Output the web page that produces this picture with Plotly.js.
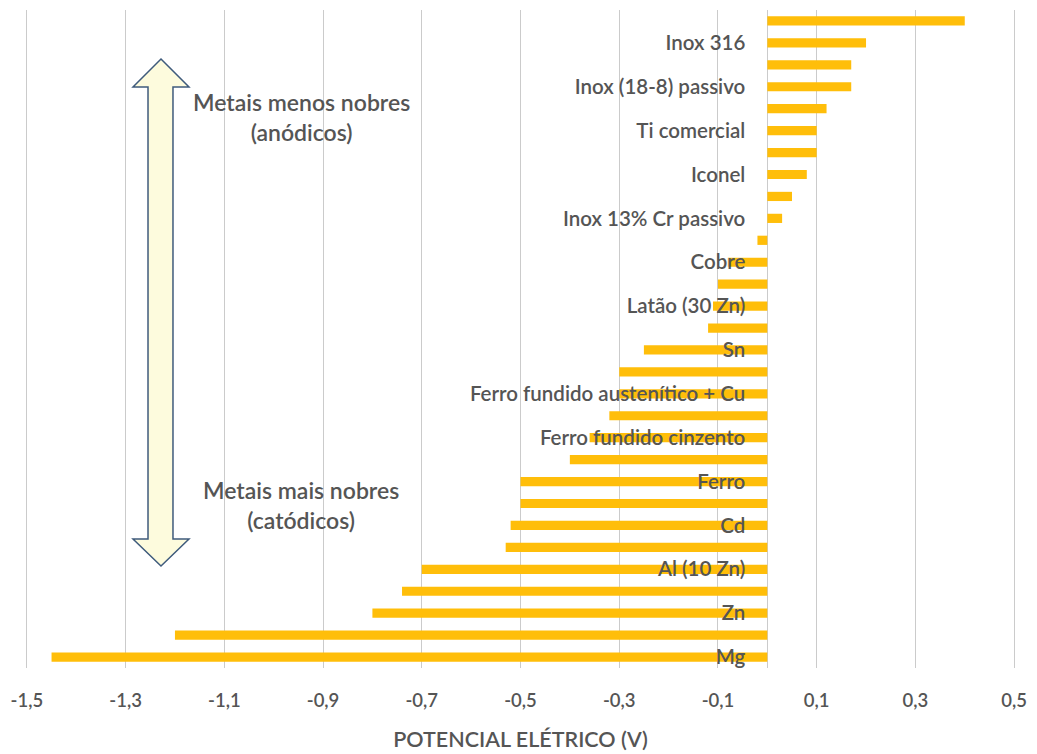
<!DOCTYPE html>
<html>
<head>
<meta charset="utf-8">
<script src="https://cdn.plot.ly/plotly-3.0.1.min.js"></script>
<style>html,body{margin:0;padding:0;background:#fff;}#chart{width:1037px;height:754px;}</style>
</head>
<body>
<div id="chart"></div>
<script>
// ---- data (top to bottom) ----
const metalLabels = ['', 'Inox 316', '', 'Inox (18-8) passivo', '', 'Ti comercial', '', 'Iconel', '', 'Inox 13% Cr passivo', '', 'Cobre', '', 'Latão (30 Zn)', '', 'Sn', '', 'Ferro fundido austenítico + Cu', '', 'Ferro fundido cinzento', '', 'Ferro', '', 'Cd', '', 'Al (10 Zn)', '', 'Zn', '', 'Mg'];
const potentials = [0.40, 0.20, 0.17, 0.17, 0.12, 0.10, 0.10, 0.08, 0.05, 0.03, -0.02, -0.08, -0.10, -0.11, -0.12, -0.25, -0.30, -0.30, -0.32, -0.36, -0.40, -0.50, -0.50, -0.52, -0.53, -0.70, -0.74, -0.80, -1.20, -1.45];
const xTickVals = [-1.5, -1.3, -1.1, -0.9, -0.7, -0.5, -0.3, -0.1, 0.1, 0.3, 0.5];
const xTickText = ['-1,5', '-1,3', '-1,1', '-0,9', '-0,7', '-0,5', '-0,3', '-0,1', '0,1', '0,3', '0,5'];
const xTitle = 'POTENCIAL ELÉTRICO (V)';
const noteTop = 'Metais menos nobres<br>(anódicos)';
const noteBottom = 'Metais mais nobres<br>(catódicos)';

// ---- layout geometry ----
const W = 1037, H = 754;
const M = {l: 17, r: 13, t: 10, b: 86};
const xRange = [-1.52, 0.52];
const plotW = W - M.l - M.r, plotH = H - M.t - M.b;
const px = v => (v - M.l) / plotW;          // pixel -> paper x
const py = v => (H - M.b - v) / plotH;      // pixel -> paper y

const idx = potentials.map((_, i) => i);
const tickIdx = idx.filter(i => metalLabels[i] !== '');
const tickTxt = tickIdx.map(i => metalLabels[i]);

const textColor = '#555555';
const fontFam = 'Lato, "Noto Sans", sans-serif';
const fw = 600;

// arrow outline (pixels)
const arrowPts = [[161,59],[189,87],[173,87],[173,539],[189,539],[161,566],[133,539],[148,539],[148,87],[133,87]];
const arrowPath = 'M ' + arrowPts.map(p => px(p[0]).toFixed(4) + ',' + py(p[1]).toFixed(4)).join(' L ') + ' Z';

const trace = {
  type: 'bar',
  orientation: 'h',
  x: potentials,
  y: idx,
  marker: {color: '#FFBE0A'},
  hoverinfo: 'x'
};

const layout = {
  width: W, height: H,
  margin: M,
  paper_bgcolor: '#fff', plot_bgcolor: '#fff',
  bargap: 0.58,
  showlegend: false,
  font: {family: fontFam, color: textColor, size: 18},
  xaxis: {
    range: xRange,
    tickvals: xTickVals,
    ticktext: xTickText,
    showgrid: true,
    gridcolor: '#cbcbcb',
    gridwidth: 1,
    zeroline: true,
    zerolinecolor: '#cbcbcb',
    zerolinewidth: 1,
    showline: false,
    ticks: '',
    ticklabelstandoff: 19,
    tickfont: {size: 18.5, color: textColor, family: fontFam, weight: fw},
    title: {text: xTitle, font: {size: 21.5, color: textColor, family: fontFam, weight: fw}, standoff: 22},
    fixedrange: true
  },
  yaxis: {
    range: [29.5, -0.5],
    anchor: 'free',
    position: (0 - xRange[0]) / (xRange[1] - xRange[0]),
    tickvals: tickIdx,
    ticktext: tickTxt,
    showgrid: false,
    zeroline: false,
    showline: false,
    ticks: '',
    ticklabelstandoff: 22,
    tickfont: {size: 20.5, color: textColor, family: fontFam, weight: fw},
    fixedrange: true
  },
  shapes: [{
    type: 'path', xref: 'paper', yref: 'paper',
    path: arrowPath,
    fillcolor: '#FDFBDD',
    line: {color: '#3F5B7C', width: 1.5},
    layer: 'above'
  }],
  annotations: [
    {xref: 'paper', yref: 'paper', x: px(301), y: py(117), text: noteTop, showarrow: false,
     font: {size: 23, color: textColor, family: fontFam, weight: fw}, align: 'center', xanchor: 'center', yanchor: 'middle'},
    {xref: 'paper', yref: 'paper', x: px(301), y: py(505), text: noteBottom, showarrow: false,
     font: {size: 23, color: textColor, family: fontFam, weight: fw}, align: 'center', xanchor: 'center', yanchor: 'middle'}
  ]
};

Plotly.newPlot('chart', [trace], layout, {displayModeBar: false, staticPlot: true});
</script>
</body>
</html>
